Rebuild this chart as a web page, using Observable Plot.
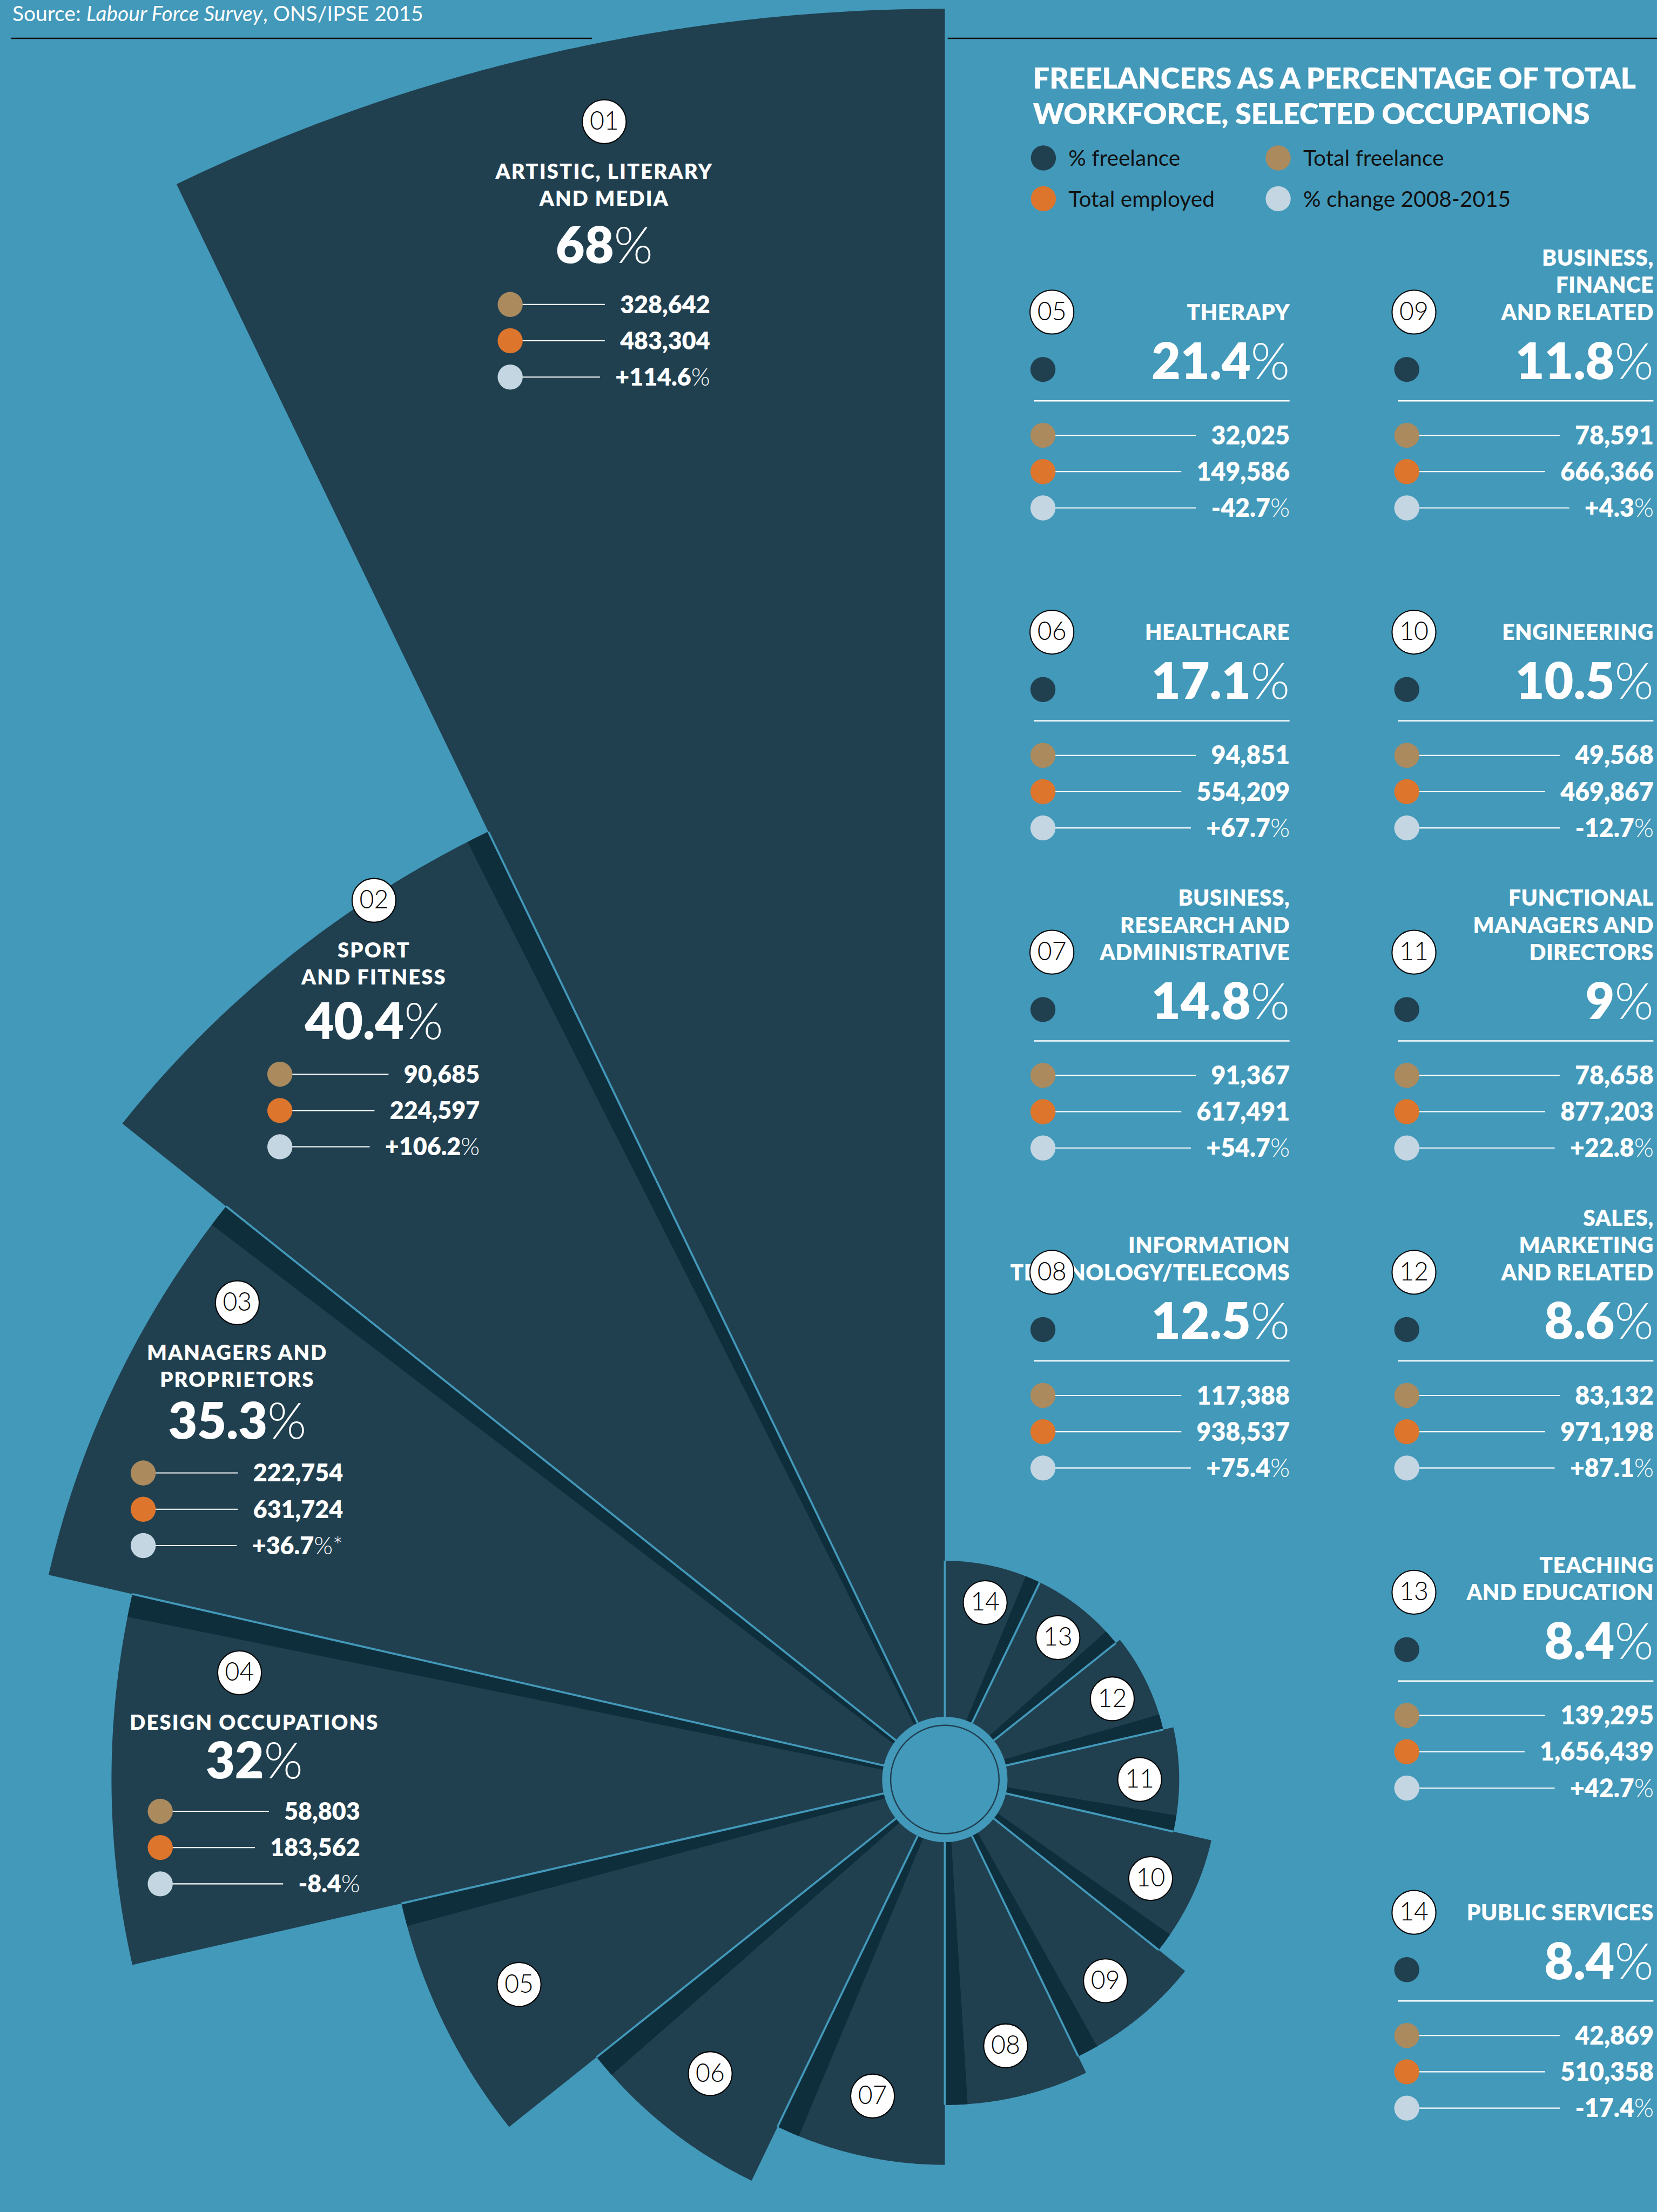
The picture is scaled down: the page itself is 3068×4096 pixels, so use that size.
<!DOCTYPE html>
<html><head><meta charset="utf-8">
<script src="https://cdn.jsdelivr.net/npm/d3@7"></script>
<script src="https://cdn.jsdelivr.net/npm/@observablehq/plot@0.6"></script>
<style>html,body{margin:0;padding:0;background:#4399ba;overflow:hidden}</style>
</head><body><div id="chart"></div>
<script>
// ---------------- DATA ----------------
const codes = ["01","02","03","04","05","06","07","08","09","10","11","12","13","14"];
const occupations = [
  "ARTISTIC, LITERARY\nAND MEDIA",
  "SPORT\nAND FITNESS",
  "MANAGERS AND\nPROPRIETORS",
  "DESIGN OCCUPATIONS",
  "THERAPY",
  "HEALTHCARE",
  "BUSINESS,\nRESEARCH AND\nADMINISTRATIVE",
  "INFORMATION\nTECHNOLOGY/TELECOMS",
  "BUSINESS,\nFINANCE\nAND RELATED",
  "ENGINEERING",
  "FUNCTIONAL\nMANAGERS AND\nDIRECTORS",
  "SALES,\nMARKETING\nAND RELATED",
  "TEACHING\nAND EDUCATION",
  "PUBLIC SERVICES"
];
const pctFreelance = [68, 40.4, 35.3, 32, 21.4, 17.1, 14.8, 12.5, 11.8, 10.5, 9, 8.6, 8.4, 8.4];
const totalFreelance = [328642, 90685, 222754, 58803, 32025, 94851, 91367, 117388, 78591, 49568, 78658, 83132, 139295, 42869];
const totalEmployed = [483304, 224597, 631724, 183562, 149586, 554209, 617491, 938537, 666366, 469867, 877203, 971198, 1656439, 510358];
const pctChange = [114.6, 106.2, 36.7, -8.4, -42.7, 67.7, 54.7, 75.4, 4.3, -12.7, 22.8, 87.1, 42.7, -17.4];
const changeNote = ["", "", "*", "", "", "", "", "", "", "", "", "", "", ""];
const legendLabels = ["% freelance", "Total freelance", "Total employed", "% change 2008-2015"];
const titleLines = ["FREELANCERS AS A PERCENTAGE OF TOTAL", "WORKFORCE, SELECTED OCCUPATIONS"];
const sourceParts = ["Source: ", "Labour Force Survey", ", ONS/IPSE 2015"];

// ---------------- STYLE / LAYOUT (reference pixel units) ----------------
const S = 0.829, REF_W = 3698, REF_H = 4937;
const BG = "#4399ba", SECTOR = "#204050", STRIP = "#0f2e3c";
const TAN = "#ab8a5e", ORANGE = "#de752c", PALE = "#c3d6e1", WHITE = "#ffffff", INK = "#111111";
const FONT = "Lato, 'Noto Sans', 'DejaVu Sans', sans-serif";
const BOLD = 800;
const legendColors = [SECTOR, TAN, ORANGE, PALE];
const center = {x: 2108, y: 3971};
const rScale = d3.scaleLinear().domain([0, d3.max(pctFreelance)]).range([0, 3952]);
const N = codes.length, step = 2 * Math.PI / N;
const polar = (t, r) => ({x: center.x - r * Math.sin(t), y: center.y - r * Math.cos(t)});

const bigLayout = [
  {x: 1348, y: 271, bdx: 0, gapBig: 127, gapRow: 93},
  {x: 834, y: 2009, bdx: 0, gapBig: 121, gapRow: 79},
  {x: 529, y: 2907, bdx: 0, gapBig: 115, gapRow: 77},
  {x: 567, y: 3733, bdx: -33, gapBig: 109, gapRow: 73}
];
const cardCols = [ {badgeX: 2347, dotX: 2327, ruleX: 2307, right: 2878}, {badgeX: 3155, dotX: 3139, ruleX: 3120, right: 3690} ];
const cardSlots = [[0,0],[0,1],[0,2],[0,3],[1,0],[1,1],[1,2],[1,3],[1,4],[1,5]];
const cardRow0 = 696, cardPitch = 714.3;

const fmtInt = d3.format(",");
const fmtPct = v => String(+v.toFixed(1));
const fmtChange = v => (v > 0 ? "+" : v < 0 ? "-" : "") + Math.abs(v).toFixed(1);

// ---------------- text helpers ----------------
const ctx = document.createElement("canvas").getContext("2d");
function measure(text, size, weight = 400, style = "normal", spacing = 0) {
  ctx.font = `${style} ${weight} ${size * S}px Lato`;
  return ctx.measureText(text).width / S + spacing * text.length;
}
const textItems = [];
function addText(x, y, text, o = {}) {
  textItems.push({x, y, text, size: o.size ?? 40, weight: o.weight ?? 400, style: o.style ?? "normal",
    anchor: o.anchor ?? "middle", fill: o.fill ?? WHITE, lineAnchor: o.lineAnchor ?? "bottom",
    lineHeight: o.lineHeight ?? 1, spacing: o.spacing ?? 0});
}
function addPct(x, y, num, suffix, size, anchor, numWeight = BOLD, sufWeight = 300) {
  const wn = measure(num, size, numWeight), ws = measure(suffix, size, sufWeight);
  const xEnd = anchor === "end" ? x - ws : x - (wn + ws) / 2 + wn;
  addText(xEnd, y, num, {size, weight: numWeight, anchor: "end"});
  addText(xEnd, y, suffix, {size, weight: sufWeight, anchor: "start"});
  return wn + ws;
}

// ---------------- geometry from data ----------------
const sectorPts = [], stripPts = [], separators = [];
codes.forEach((id, i) => {
  const R = rScale(pctFreelance[i]);
  const t0 = i * step, t1 = (i + 1) * step;
  sectorPts.push({id, ...center});
  for (let j = 0; j <= 90; j++) sectorPts.push({id, ...polar(t0 + (t1 - t0) * j / 90, R)});
  if (i > 0) {
    const d1 = Math.min(52, 0.07 * R), d0 = 6, tEnd = t0 + d1 / R;
    stripPts.push({id, ...center});
    for (let j = 0; j <= 12; j++) stripPts.push({id, ...polar(t0 + (tEnd - t0) * j / 12, R)});
    stripPts.push({id, x: center.x - d0 * Math.cos(t0), y: center.y + d0 * Math.sin(t0)});
  }
  const prev = (i - 1 + N) % N;
  const Rs = Math.min(R, rScale(pctFreelance[prev]));
  const p = polar(t0, Rs);
  separators.push({x1: center.x, y1: center.y, x2: p.x, y2: p.y});
});

const badges = [];
const rowDots = [], connectors = [], rules = [];
codes.forEach((id, i) => {
  if (i < 4) { const L = bigLayout[i]; badges.push({id, x: L.x + L.bdx, y: L.y}); }
  else badges.push({id, ...polar((i + 0.5) * step, 0.86 * rScale(pctFreelance[i]) - 15)});
});

function rowsFor(i) {
  return [
    {num: fmtInt(totalFreelance[i]), suf: "", color: TAN},
    {num: fmtInt(totalEmployed[i]), suf: "", color: ORANGE},
    {num: fmtChange(pctChange[i]), suf: "%" + changeNote[i], color: PALE}
  ];
}
function addValue(right, y, r, size) {
  if (r.suf) return addPct(right, y, r.num, r.suf, size, "end");
  addText(right, y, r.num, {size, weight: BOLD, anchor: "end"});
  return measure(r.num, size, BOLD);
}

// big blocks 01-04 inside the sectors
for (let i = 0; i < 4; i++) {
  const L = bigLayout[i];
  const lines = occupations[i].split("\n");
  const yName = L.y + 127 + (lines.length - 1) * 61;
  addText(L.x, yName, occupations[i], {size: 46, weight: BOLD, lineHeight: 61 / 46, spacing: 2.6});
  const yBig = yName + L.gapBig;
  addPct(L.x, yBig, fmtPct(pctFreelance[i]), "%", 112, "middle");
  rowsFor(i).forEach((r, k) => {
    const yy = yBig + L.gapRow + k * 81, right = L.x + 236, dotX = L.x - 210;
    const w = addValue(right, yy + 19, r, 54);
    connectors.push({x1: dotX, y1: yy, x2: right - w - 34, y2: yy});
    rowDots.push({x: dotX, y: yy, fill: r.color});
  });
}

// right panel cards 05-14
for (let i = 4; i < N; i++) {
  const [c, row] = cardSlots[i - 4];
  const col = cardCols[c];
  const by = cardRow0 + row * cardPitch;
  badges.push({id: codes[i], x: col.badgeX, y: by});
  addText(col.right, by + 18, occupations[i], {size: 49, weight: BOLD, anchor: "end", lineHeight: 61 / 49, spacing: 0.6});
  rowDots.push({x: col.dotX, y: by + 128, fill: SECTOR});
  addPct(col.right, by + 149, fmtPct(pctFreelance[i]), "%", 112, "end");
  rules.push({x1: col.ruleX, x2: col.right, y: by + 198});
  rowsFor(i).forEach((r, k) => {
    const yy = by + 275 + k * 81;
    const w = addValue(col.right, yy + 20, r, 56);
    connectors.push({x1: col.dotX, y1: yy, x2: col.right - w - 34, y2: yy});
    rowDots.push({x: col.dotX, y: yy, fill: r.color});
  });
}

// title, legend, source
titleLines.forEach((t, k) => addText(2305, 197 + k * 80, t, {size: 65, weight: BOLD, anchor: "start"}));
const legendPos = [[0,0],[1,0],[0,1],[1,1]];
const legendItems = legendLabels.map((lab, k) => {
  const [c, r] = legendPos[k];
  return {x: [2328, 2852][c], y: [352, 443][r], fill: legendColors[k], label: lab};
});
legendItems.forEach(d => addText(d.x + 56, d.y + 18, d.label, {size: 49, weight: 400, anchor: "start", fill: INK}));
{
  let x = 27;
  const styles = ["normal", "italic", "normal"];
  sourceParts.forEach((p, k) => { addText(x, 46, p, {size: 47, weight: 400, style: styles[k], anchor: "start"}); x += measure(p, 47, 400, styles[k]); });
}
const topRules = [{x1: 25, x2: 1321, y: 85}, {x1: 2115, x2: 3698, y: 85}];

// group text items into Plot.text marks
const groups = d3.groups(textItems, d => [d.size, d.weight, d.style, d.anchor, d.fill, d.lineAnchor, d.lineHeight, d.spacing].join("|"));
const textMarks = groups.map(([, items]) => {
  const d = items[0];
  return Plot.text(items, {x: "x", y: "y", text: "text", fontSize: d.size * S, fontWeight: d.weight, fontStyle: d.style,
    textAnchor: d.anchor, fill: d.fill, lineAnchor: d.lineAnchor, lineHeight: d.lineHeight, fontFamily: FONT,
    ariaDescription: "ls" + d.spacing});
});

const chart = Plot.plot({
  width: 3068, height: 4096, margin: 0,
  x: {domain: [0, REF_W], range: [0, 3068], axis: null},
  y: {domain: [0, REF_H], range: [0, 4096], axis: null},
  color: {type: "identity"},
  style: {background: BG, fontFamily: FONT},
  marks: [
    Plot.ruleY(topRules, {y: "y", x1: "x1", x2: "x2", stroke: INK, strokeWidth: 3 * S}),
    Plot.line(sectorPts, {x: "x", y: "y", z: "id", fill: SECTOR, stroke: "none", curve: "linear-closed"}),
    Plot.line(stripPts, {x: "x", y: "y", z: "id", fill: STRIP, stroke: "none", curve: "linear-closed"}),
    Plot.link(separators, {x1: "x1", y1: "y1", x2: "x2", y2: "y2", stroke: BG, strokeWidth: 4.5 * S}),
    Plot.dot([center], {x: "x", y: "y", r: 140 * S, fill: BG}),
    Plot.dot([center], {x: "x", y: "y", r: 121 * S, fill: "none", stroke: SECTOR, strokeWidth: 3 * S}),
    Plot.ruleY(rules, {y: "y", x1: "x1", x2: "x2", stroke: WHITE, strokeWidth: 3 * S}),
    Plot.link(connectors, {x1: "x1", y1: "y1", x2: "x2", y2: "y2", stroke: WHITE, strokeWidth: 2.5 * S}),
    Plot.dot(rowDots, {x: "x", y: "y", r: 28 * S, fill: "fill"}),
    Plot.dot(legendItems, {x: "x", y: "y", r: 28 * S, fill: "fill"}),
    ...textMarks,
    Plot.dot(badges, {x: "x", y: "y", r: 49 * S, fill: WHITE, stroke: "#000", strokeWidth: 2.5 * S}),
    Plot.text(badges, {x: "x", y: "y", text: "id", fontSize: 56 * S, fontWeight: 300, fill: "#000", fontFamily: FONT})
  ]
});
// letter spacing for spaced headings (Plot has no letterSpacing option)
chart.querySelectorAll("g[aria-description]").forEach(g => {
  const v = +g.getAttribute("aria-description").slice(2);
  if (v) g.style.letterSpacing = (v * S) + "px";
});
document.getElementById("chart").append(chart);
</script>
</body></html>
